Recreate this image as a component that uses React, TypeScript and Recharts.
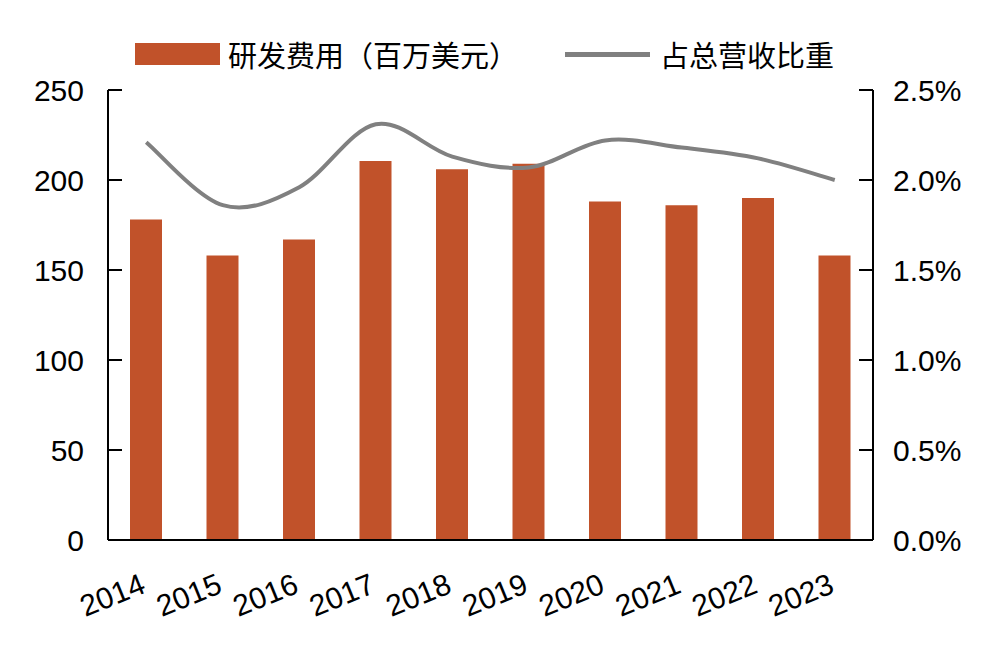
import React from "react"
import { Bar, ComposedChart, Legend, Line, XAxis, YAxis } from "recharts"

const years = ["2014", "2015", "2016", "2017", "2018", "2019", "2020", "2021", "2022", "2023"]
const rdSpend = [178, 158, 167, 210.5, 206, 209, 188, 186, 190, 158]
const revenueShare = [2.21, 1.86, 1.96, 2.31, 2.13, 2.07, 2.22, 2.18, 2.12, 2.0]
const leftTicks = [0, 50, 100, 150, 200, 250]
const rightTicks = [0, 0.5, 1, 1.5, 2, 2.5]

const data = years.map((year, i) => ({ year, rd: rdSpend[i], share: revenueShare[i] }))

const BAR_COLOR = "#C1522A"
const LINE_COLOR = "#808080"
const NUM_FONT = "'Liberation Sans', Arial, sans-serif"
const CJK_FONT = "'Noto Sans CJK SC', sans-serif"

const LEFT_X = 108
const RIGHT_X = 873

// Excel-style smoothed line (Catmull-Rom through the points)
function smoothCurve(context: any) {
    let pts: number[][] = []
    return {
        areaStart() {},
        areaEnd() {},
        lineStart() {
            pts = []
        },
        lineEnd() {
            if (!pts.length) return
            context.moveTo(pts[0][0], pts[0][1])
            for (let i = 0; i < pts.length - 1; i++) {
                const p0 = pts[i - 1] || pts[i]
                const p1 = pts[i]
                const p2 = pts[i + 1]
                const p3 = pts[i + 2] || pts[i + 1]
                const t = 1 / 6
                context.bezierCurveTo(
                    p1[0] + (p2[0] - p0[0]) * t,
                    p1[1] + (p2[1] - p0[1]) * t,
                    p2[0] - (p3[0] - p1[0]) * t,
                    p2[1] - (p3[1] - p1[1]) * t,
                    p2[0],
                    p2[1]
                )
            }
        },
        point(x: number, y: number) {
            pts.push([+x, +y])
        },
    }
}

function LeftTick(props: any) {
    const { y, payload } = props
    return (
        <g>
            <line x1={LEFT_X} x2={LEFT_X + 14} y1={y} y2={y} stroke="#000" strokeWidth={2} />
            <text x={84} y={y} dy="0.36em" textAnchor="end" fontSize={30} fontFamily={NUM_FONT} fill="#000">
                {payload.value}
            </text>
        </g>
    )
}

function RightTick(props: any) {
    const { y, payload } = props
    return (
        <g>
            <line x1={RIGHT_X - 14} x2={RIGHT_X} y1={y} y2={y} stroke="#000" strokeWidth={2} />
            <text x={893} y={y} dy="0.36em" textAnchor="start" fontSize={30} fontFamily={NUM_FONT} fill="#000">
                {payload.value.toFixed(1) + "%"}
            </text>
        </g>
    )
}

function YearTick(props: any) {
    const { x, payload } = props
    const tx = x + 1
    const ty = 592
    return (
        <text
            x={tx}
            y={ty}
            textAnchor="end"
            fontSize={30}
            fontFamily={NUM_FONT}
            fill="#000"
            transform={`rotate(-22, ${tx}, ${ty})`}
        >
            {payload.value}
        </text>
    )
}

function ChartLegend() {
    const text: React.CSSProperties = {
        position: "absolute",
        top: 0,
        lineHeight: "32px",
        fontSize: 29,
        fontFamily: CJK_FONT,
        color: "#000",
        whiteSpace: "nowrap",
    }
    return (
        <div style={{ position: "relative", width: 1007, height: 32 }}>
            <div style={{ position: "absolute", left: 135, top: 5, width: 85, height: 22, background: BAR_COLOR }} />
            <span style={{ ...text, left: 228 }}>研发费用（百万美元）</span>
            <div style={{ position: "absolute", left: 565, top: 14, width: 85, height: 5, background: LINE_COLOR }} />
            <span style={{ ...text, left: 660 }}>占总营收比重</span>
        </div>
    )
}

export default function App() {
    return (
        <div style={{ position: "absolute", left: 0, top: 0, width: 1007, height: 657, background: "#fff" }}>
            <ComposedChart
                width={1007}
                height={657}
                data={data}
                margin={{ top: 90, right: 14, bottom: 17, left: 8 }}
                barSize={32}
            >
                <Legend
                    layout="vertical"
                    verticalAlign="middle"
                    align="center"
                    content={() => <ChartLegend />}
                    wrapperStyle={{ position: "absolute", top: 38, left: 0, width: 1007, height: 32 }}
                />
                <XAxis
                    dataKey="year"
                    height={100}
                    tickLine={false}
                    axisLine={{ stroke: "#000", strokeWidth: 2 }}
                    tick={<YearTick />}
                    interval={0}
                />
                <YAxis
                    yAxisId="left"
                    width={100}
                    domain={[0, 250]}
                    ticks={leftTicks}
                    tickLine={false}
                    axisLine={{ stroke: "#000", strokeWidth: 2 }}
                    tick={<LeftTick />}
                />
                <YAxis
                    yAxisId="right"
                    orientation="right"
                    width={120}
                    domain={[0, 2.5]}
                    ticks={rightTicks}
                    tickLine={false}
                    axisLine={{ stroke: "#000", strokeWidth: 2 }}
                    tick={<RightTick />}
                />
                <Bar yAxisId="left" dataKey="rd" fill={BAR_COLOR} isAnimationActive={false} />
                <Line
                    yAxisId="right"
                    dataKey="share"
                    type={smoothCurve as any}
                    stroke={LINE_COLOR}
                    strokeWidth={4}
                    dot={false}
                    activeDot={false}
                    isAnimationActive={false}
                />
            </ComposedChart>
        </div>
    )
}
